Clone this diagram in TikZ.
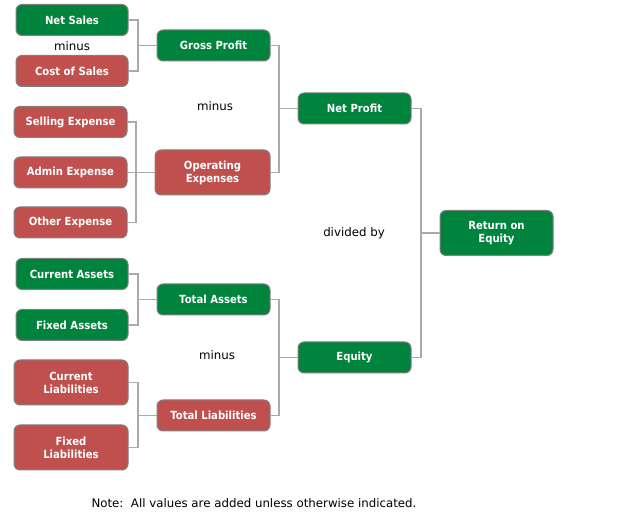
\documentclass[tikz,border=0pt]{standalone}
\usepackage{fontspec}
\setmainfont{DejaVu Sans}[FakeStretch=0.9]
\newfontfamily\lblfont{DejaVu Sans}
\usetikzlibrary{calc}
\definecolor{gbox}{RGB}{0,132,61}
\definecolor{rbox}{RGB}{192,80,77}
\definecolor{bord}{RGB}{128,128,128}
\definecolor{conn}{RGB}{170,170,170}
\begin{document}
\begin{tikzpicture}[x=1pt,y=-1pt,
  box/.style={draw=bord,line width=1pt,rounded corners=6pt,minimum width=112pt,
    text=white,font=\fontsize{11.2}{13}\selectfont\bfseries,align=center,inner sep=0pt},
  gbx/.style={box,fill=gbox},
  rbx/.style={box,fill=rbox},
  one/.style={minimum height=31pt},
  two/.style={minimum height=45pt},
  lbl/.style={font=\lblfont\fontsize{11.8}{13}\selectfont,text=black},
  cn/.style={draw=conn,line width=1.4pt}]
\useasboundingbox (0,0) rectangle (633,513);
% column 1
\node[gbx,one] (ns) at (72,20) {Net Sales};
\node[rbx,one] (cs) at (72,71) {Cost of Sales};
\node[lbl] (m1) at (72,46) {minus};
\node[rbx,one,minimum width=113pt] (se) at (70.5,122) {Selling Expense};
\node[rbx,one,minimum width=113pt] (ae) at (70.5,172.5) {Admin Expense};
\node[rbx,one,minimum width=113pt] (oe) at (70.5,222.5) {Other Expense};
\node[gbx,one] (ca) at (72,274) {Current Assets};
\node[gbx,one] (fa) at (72,325) {Fixed Assets};
\node[rbx,two,minimum width=114pt] (cl) at (71,382.5) {Current\\Liabilities};
\node[rbx,two,minimum width=114pt] (fl) at (71,447.5) {Fixed\\Liabilities};
% column 2
\node[gbx,one,minimum width=113pt] (gp) at (213.5,45.5) {Gross Profit};
\node[rbx,two,minimum width=115pt] (ox) at (212.5,172.5) {Operating\\Expenses};
\node[lbl] (m2) at (215,106) {minus};
\node[gbx,one,minimum width=113pt] (ta) at (213.5,299.5) {Total Assets};
\node[rbx,one,minimum width=113pt] (tl) at (213.5,415.5) {Total Liabilities};
\node[lbl] (m3) at (217,355) {minus};
% column 3
\node[gbx,one,minimum width=113pt] (np) at (354.5,108.5) {Net Profit};
\node[gbx,one,minimum width=113pt] (eq) at (354.5,357.5) {Equity};
\node[lbl] (dv) at (354,233) {divided by};
% column 4
\node[gbx,two,minimum width=113pt] (roe) at (496.5,233) {Return on\\Equity};
% note
\node[lbl] (note) at (254,503) {Note:\ \ All values are added unless otherwise indicated.};
% bracket x positions
\coordinate (b1) at (138,0);
\coordinate (b2) at (136,0);
\coordinate (b3) at (279,0);
\coordinate (b4) at (421,0);
% connectors
\draw[cn] (ns.east) -| (b1 |- ns.east) |- (cs.east);
\draw[cn] (gp.west) -- (b1 |- gp.west);
\draw[cn] (se.east) -| (b2 |- se.east) |- (oe.east);
\draw[cn] (ae.east) -- (ox.west);
\draw[cn] (gp.east) -| (b3 |- gp.east) |- (ox.east);
\draw[cn] (np.west) -- (b3 |- np.west);
\draw[cn] (ca.east) -| (b1 |- ca.east) |- (fa.east);
\draw[cn] (ta.west) -- (b1 |- ta.west);
\draw[cn] (cl.east) -| (b1 |- cl.east) |- (fl.east);
\draw[cn] (tl.west) -- (b1 |- tl.west);
\draw[cn] (ta.east) -| (b3 |- ta.east) |- (tl.east);
\draw[cn] (eq.west) -- (b3 |- eq.west);
\draw[cn] (np.east) -| (b4 |- np.east) |- (eq.east);
\draw[cn] (roe.west) -- (b4 |- roe.west);
\end{tikzpicture}
\end{document}
